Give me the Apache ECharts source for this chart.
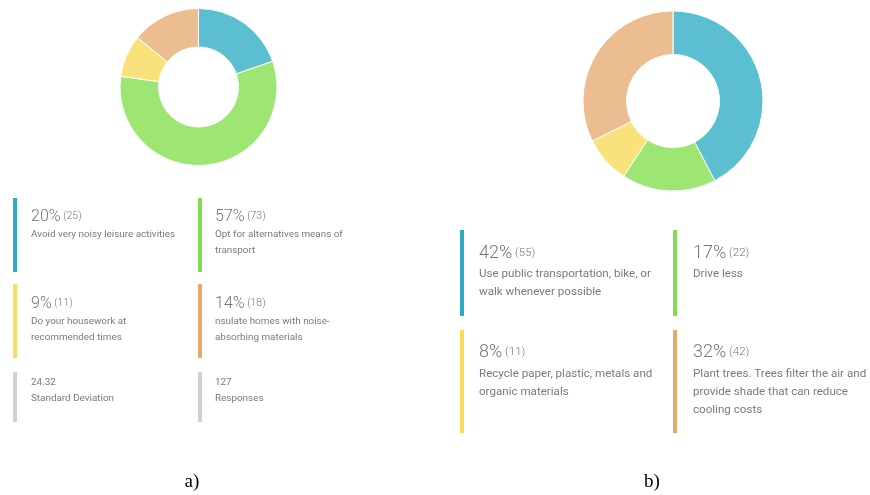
<!DOCTYPE html>
<html>
<head>
<meta charset="utf-8">
<script src="https://cdn.jsdelivr.net/npm/echarts@6/dist/echarts.min.js"></script>
<style>
html,body{margin:0;padding:0;background:#fff;}
#chart{width:870px;height:495px;}
</style>
</head>
<body>
<div id="chart"></div>
<script>
// ---- data ----
const leftCategories = [
  'Avoid very noisy leisure activities',
  'Opt for alternatives means of\ntransport',
  'Do your housework at\nrecommended times',
  'nsulate homes with noise-\nabsorbing materials'
];
const leftValues = [25, 73, 11, 18];
const leftStdDev = '24.32';
const leftResponses = 127;

const rightCategories = [
  'Use public transportation, bike, or\nwalk whenever possible',
  'Drive less',
  'Recycle paper, plastic, metals and\norganic materials',
  'Plant trees. Trees filter the air and\nprovide shade that can reduce\ncooling costs'
];
const rightValues = [55, 22, 11, 42];

const captions = ['a)', 'b)'];

// ---- styles ----
const sliceColors = ['#5bbfd1', '#9ee673', '#f9e27b', '#ecbd90'];
const barColors = ['#2eaac4', '#7fdd4f', '#fadd5a', '#e9a96b'];
const grayBar = '#d0d0d0';
const pctColor = '#757575';
const descColor = '#7a7a7a';
const FONT = 'Roboto, "Noto Sans", sans-serif';

const chart = echarts.init(document.getElementById('chart'), null, {renderer: 'canvas'});

function pieSeries(cats, vals, center, radius) {
  return {
    type: 'pie',
    center: center,
    radius: radius,
    startAngle: 90,
    clockwise: true,
    silent: true,
    animation: false,
    label: {show: false},
    labelLine: {show: false},
    itemStyle: {borderColor: '#fff', borderWidth: 1},
    data: vals.map((v, i) => ({name: cats[i], value: v, itemStyle: {color: sliceColors[i]}}))
  };
}

const graphics = [];
function bar(x, y1, y2, color) {
  graphics.push({type: 'rect', shape: {x: x, y: y1, width: 4, height: y2 - y1}, style: {fill: color}, silent: true});
}
function pctText(x, yMid, pct, count, big, small) {
  graphics.push({
    type: 'text', x: x, y: yMid,
    style: {
      text: '{p|' + pct + '%}{c| (' + count + ')}',
      verticalAlign: 'middle', align: 'left',
      rich: {
        p: {fontFamily: FONT, fontWeight: 300, fontSize: big, fill: pctColor, verticalAlign: 'bottom', lineHeight: big + 2},
        c: {fontFamily: FONT, fontWeight: 300, fontSize: small, fill: pctColor, verticalAlign: 'bottom', lineHeight: big + 2, padding: [0, 0, 3, 0]}
      }
    },
    silent: true
  });
}
function descText(x, yFirstMid, text, size, lh) {
  graphics.push({
    type: 'text', x: x, y: yFirstMid - lh / 2,
    style: {text: text, fontFamily: FONT, fontSize: size, fill: descColor, lineHeight: lh, verticalAlign: 'top', align: 'left'},
    silent: true
  });
}

// left legend
const lSum = leftValues.reduce((a, b) => a + b, 0);
const lPct = leftValues.map(v => Math.round(v / lSum * 100));
const lCols = [[13, 31], [198, 215]];
const lRows = [{y1: 198, y2: 272, p: 216, d: 235}, {y1: 284, y2: 358, p: 303, d: 322}];
for (let i = 0; i < 4; i++) {
  const c = lCols[i % 2], r = lRows[Math.floor(i / 2)];
  bar(c[0], r.y1, r.y2, barColors[i]);
  pctText(c[1], r.p, lPct[i], leftValues[i], 16, 10.5);
  descText(c[1], r.d, leftCategories[i], 9.9, 16);
}
bar(13, 372, 422, grayBar);
bar(198, 372, 422, grayBar);
descText(31, 383, leftStdDev + '\nStandard Deviation', 9.9, 16);
descText(215, 383, leftResponses + '\nResponses', 9.9, 16);

// right legend
const rSum = rightValues.reduce((a, b) => a + b, 0);
const rPct = rightValues.map(v => Math.round(v / rSum * 100));
const rCols = [[460, 479], [673, 693]];
const rRows = [{y1: 230, y2: 316, p: 252, d: 274}, {y1: 330, y2: 433, p: 351, d: 374}];
for (let i = 0; i < 4; i++) {
  const c = rCols[i % 2], r = rRows[Math.floor(i / 2)];
  bar(c[0], r.y1, r.y2, barColors[i]);
  pctText(c[1], r.p, rPct[i], rightValues[i], 18, 11.5);
  descText(c[1], r.d, rightCategories[i], 11.6, 18);
}

// captions
[[192, captions[0]], [652, captions[1]]].forEach(([x, t]) => {
  graphics.push({type: 'text', x: x, y: 482, style: {text: t, fontFamily: '"Liberation Serif", "DejaVu Serif", serif', fontSize: 19, fill: '#000', align: 'center', verticalAlign: 'middle'}, silent: true});
});

chart.setOption({
  animation: false,
  backgroundColor: '#fff',
  series: [
    pieSeries(leftCategories, leftValues, [198.5, 87], [40, 78.5]),
    pieSeries(rightCategories, rightValues, [673, 101], [46.5, 90])
  ],
  graphic: graphics
});
</script>
</body>
</html>
